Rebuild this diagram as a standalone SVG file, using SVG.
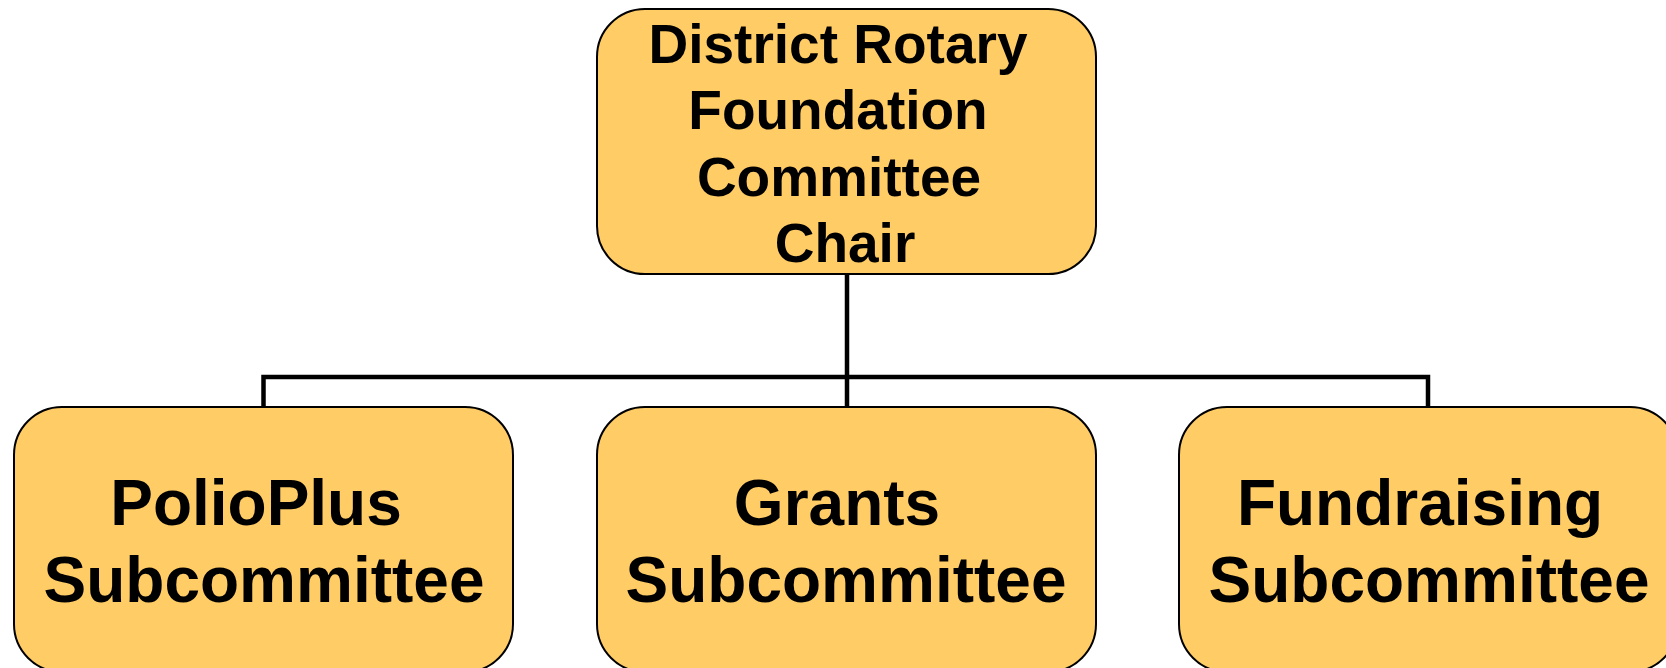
<svg xmlns="http://www.w3.org/2000/svg" width="1666" height="668" viewBox="0 0 1666 668">
<style>
.box{fill:#FFCC66;stroke:#000;stroke-width:2}
.t{font-family:"Liberation Sans",Arial,sans-serif;font-weight:bold;fill:#000;text-anchor:middle}
.top{font-size:55px}
.sub{font-size:64px}
.conn{fill:none;stroke:#000;stroke-width:4.5}
</style>
<rect width="1666" height="668" fill="#fff"/>
<g id="connectors">
<path class="conn" d="M847 274 V407"/>
<path class="conn" d="M263.5 407 V377 H1428 V407"/>
</g>
<g id="chair">
<rect class="box" x="597" y="9" width="499" height="265" rx="48"/>
<text class="t top" x="838" y="63">District Rotary</text>
<text class="t top" x="838" y="129">Foundation</text>
<text class="t top" x="839" y="196">Committee</text>
<text class="t top" x="845" y="262">Chair</text>
</g>
<g id="polioplus">
<rect class="box" x="14" y="407" width="499" height="265" rx="48"/>
<text class="t sub" x="256" y="525">PolioPlus</text>
<text class="t sub" x="264" y="602">Subcommittee</text>
</g>
<g id="grants">
<rect class="box" x="597" y="407" width="499" height="265" rx="48"/>
<text class="t sub" x="837" y="525">Grants</text>
<text class="t sub" x="846" y="602">Subcommittee</text>
</g>
<g id="fundraising">
<rect class="box" x="1179" y="407" width="499" height="265" rx="48"/>
<text class="t sub" x="1420" y="525">Fundraising</text>
<text class="t sub" x="1429" y="602">Subcommittee</text>
</g>
</svg>
